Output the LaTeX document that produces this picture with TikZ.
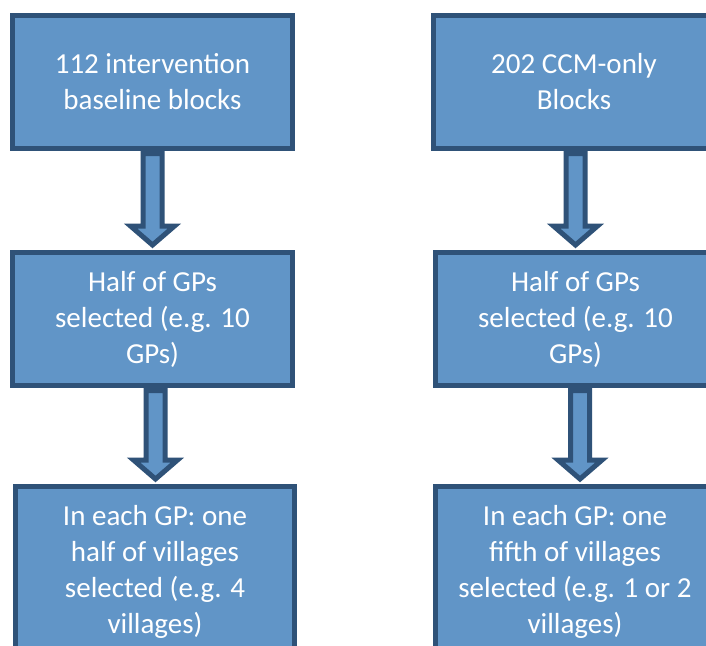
\documentclass[tikz,border=0pt]{standalone}
\usepackage{fontspec}
\setmainfont{Carlito}
\usetikzlibrary{calc}
\definecolor{boxfill}{HTML}{6195C7}
\definecolor{boxline}{HTML}{2F5278}
\newcommand\blockarrow[3]{%
  \draw[barrow] let \p1=(#1.south), \p2=(#2.north) in
    (\x1+#3-9.5pt,\y1-2.5pt) -- (\x1+#3-9.5pt,\y2+24pt) -- (\x1+#3-22pt,\y2+24pt)
    -- (\x1+#3,\y2+5pt) -- (\x1+#3+22pt,\y2+24pt) -- (\x1+#3+9.5pt,\y2+24pt)
    -- (\x1+#3+9.5pt,\y1-2.5pt) -- cycle;}
\begin{document}
\begin{tikzpicture}[x=1pt,y=-1pt,
  flowbox/.style={draw=boxline, fill=boxfill, line width=5pt, rectangle,
    text=white, align=center, inner sep=0pt,
    font=\fontsize{29}{36}\selectfont},
  barrow/.style={draw=boxline, fill=boxfill, line width=5pt, line join=miter}]
\clip (0,0) rectangle (706,645);
\fill[white] (0,0) rectangle (706,645);
\node[flowbox, minimum width=280pt, minimum height=133pt] (L1) at (152.5,82)
  {112 intervention\\baseline blocks};
\node[flowbox, minimum width=280pt, minimum height=133pt] (L2) at (152.5,319)
  {Half of GPs\\selected (e.g. 10\\GPs)};
\node[flowbox, minimum width=279pt, minimum height=171pt] (L3) at (155,572)
  {In each GP: one\\half of villages\\selected (e.g. 4\\villages)};
\node[flowbox, minimum width=281pt, minimum height=133pt] (R1) at (574,82)
  {202 CCM-only\\Blocks};
\node[flowbox, minimum width=280pt, minimum height=133pt] (R2) at (575.5,319)
  {Half of GPs\\selected (e.g. 10\\GPs)};
\node[flowbox, minimum width=279pt, minimum height=171pt] (R3) at (575,572)
  {In each GP: one\\fifth of villages\\selected (e.g. 1 or 2\\villages)};
\blockarrow{L1}{L2}{0pt}
\blockarrow{L2}{L3}{3pt}
\blockarrow{R1}{R2}{1.5pt}
\blockarrow{R2}{R3}{4.5pt}
\end{tikzpicture}
\end{document}
